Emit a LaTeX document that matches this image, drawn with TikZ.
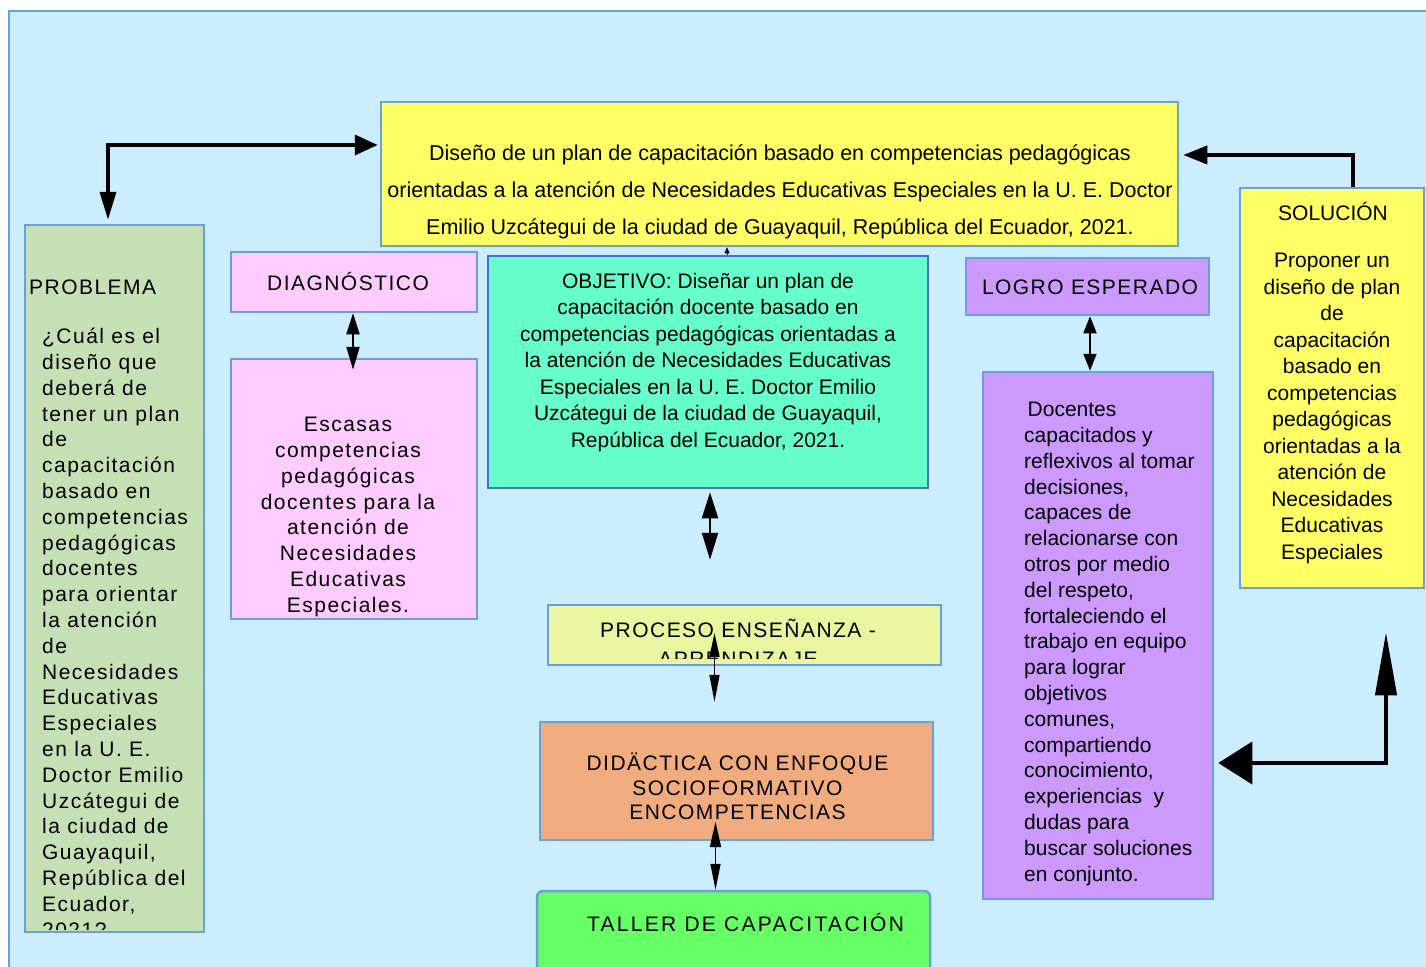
\documentclass[tikz,border=0pt]{standalone}
\usepackage{fontspec}
\setmainfont{Liberation Sans}
\newfontfamily\ancha[LetterSpace=7]{Liberation Sans}
\newfontfamily\anchamas[LetterSpace=11]{Liberation Sans}
\usetikzlibrary{positioning,arrows.meta,calc}
\definecolor{fondo}{HTML}{CCECFF}
\definecolor{borde}{HTML}{6A9FD8}
\definecolor{bordeobj}{HTML}{4472C4}
\definecolor{amarillo}{HTML}{FFFF66}
\definecolor{verdeprob}{HTML}{C5E0B4}
\definecolor{rosa}{HTML}{FFCCFF}
\definecolor{aguamarina}{HTML}{66FFCC}
\definecolor{limon}{HTML}{EAF5A0}
\definecolor{salmon}{HTML}{F0AC7E}
\definecolor{verde}{HTML}{66FF66}
\definecolor{lila}{HTML}{CC99FF}

\begin{document}
\begin{tikzpicture}[x=1pt,y=-1pt,
    caja/.style={draw=borde,line width=2.5pt,inner sep=0pt},
    txt/.style={inner sep=0pt,font=\fontsize{21}{25.8}\selectfont},
    dbl/.style={line width=2pt,{Triangle[length=26pt,width=16pt]}-{Triangle[length=27pt,width=16pt]}}]
  \useasboundingbox (0,0) rectangle (1426,966);
  \clip (0,0) rectangle (1426,966);
  \draw[borde,fill=fondo,line width=2.5pt] (9,11) rectangle (1460,1000);
  % cajas
  \node[caja,fill=amarillo,minimum width=797,minimum height=144] (titulo) at (779.5,174) {};
  \node[caja,fill=verdeprob,minimum width=179,minimum height=707] (problema) at (114.5,578.5) {};
  \node[caja,fill=rosa,minimum width=246,minimum height=60] (diagnostico) at (354,282) {};
  \node[caja,fill=rosa,minimum width=246,minimum height=260] (escasas) at (354,489) {};
  \node[caja,draw=bordeobj,fill=aguamarina,minimum width=440,minimum height=232] (objetivo) at (708,372) {};
  \node[caja,fill=limon,minimum width=393,minimum height=60] (proceso) at (744.5,635) {};
  \node[caja,fill=salmon,minimum width=393,minimum height=118] (didactica) at (736.5,781) {};
  \node[caja,fill=verde,rounded corners=6pt,minimum width=393,minimum height=94] (taller) at (733.5,938) {};
  \node[caja,fill=lila,minimum width=243,minimum height=57] (logro) at (1087.5,286.5) {};
  \node[caja,fill=lila,minimum width=230,minimum height=527] (docentes) at (1098,635.5) {};
  \node[caja,fill=amarillo,minimum width=184,minimum height=400] (solucion) at (1332,388) {};
  % textos
  \node[txt,font=\fontsize{21.5}{37}\selectfont,align=center,anchor=north] (titulotxt) at (780,144)
    {Diseño de un plan de capacitación basado en competencias pedagógicas\\
     orientadas a la atención de Necesidades Educativas Especiales en la U. E. Doctor\\
     Emilio Uzcátegui de la ciudad de Guayaquil, República del Ecuador, 2021.};
  \node[txt,anchor=west] (problematit) at (29,287) {\ancha PROBLEMA};
  \begin{scope}
    \clip (25,225) rectangle (204,929);
    \node[txt,font=\ancha\fontsize{21}{25.8}\selectfont,align=left,anchor=north west] (problematxt) at (42,328)
      {¿Cuál es el\\ diseño que\\ deberá de\\ tener un plan\\ de\\ capacitación\\ basado en\\
       competencias\\ pedagógicas\\ docentes\\ para orientar\\ la atención\\ de\\ Necesidades\\
       Educativas\\ Especiales\\ en la U. E.\\ Doctor Emilio\\ Uzcátegui de\\ la ciudad de\\
       Guayaquil,\\ República del\\ Ecuador,\\ 2021?};
  \end{scope}
  \node[txt] (diagnosticotxt) at (348,281) {\ancha DIAGNÓSTICO};
  \node[txt,font=\ancha\fontsize{21}{25.8}\selectfont,align=center,anchor=north] (escasastxt) at (348,417)
    {Escasas\\ competencias\\ pedagógicas\\ docentes para la\\ atención de\\ Necesidades\\
     Educativas\\ Especiales.};
  \node[txt,font=\fontsize{21}{26.5}\selectfont,align=center,anchor=north] (objetivotxt) at (708,273)
    {OBJETIVO: Diseñar un plan de\\ capacitación docente basado en\\ competencias pedagógicas orientadas a\\
     la atención de Necesidades Educativas\\ Especiales en la U. E. Doctor Emilio\\
     Uzcátegui de la ciudad de Guayaquil,\\ República del Ecuador, 2021.};
  \begin{scope}
    \clip (548,605) rectangle (941,658);
    \node[txt,font=\ancha\fontsize{21}{29}\selectfont,align=center,anchor=north] (procesotxt) at (738,619)
      {PROCESO ENSEÑANZA -\\ APRENDIZAJE};
  \end{scope}
  \node[txt,font=\ancha\fontsize{21}{24.5}\selectfont,align=center,anchor=north] (didacticatxt) at (737.5,753)
    {DIDÄCTICA CON ENFOQUE\\ SOCIOFORMATIVO\\ ENCOMPETENCIAS};
  \node[txt] (tallertxt) at (745.5,922) {\anchamas TALLER DE CAPACITACIÓN};
  \node[txt] (logrotxt) at (1090,287) {\ancha LOGRO ESPERADO};
  \node[txt,align=left,anchor=north west] (docentestxt) at (1024,402)
    {\,Docentes\\ capacitados y\\ reflexivos al tomar\\ decisiones,\\ capaces de\\ relacionarse con\\
     otros por medio\\ del respeto,\\ fortaleciendo el\\ trabajo en equipo\\ para lograr\\ objetivos\\
     comunes,\\ compartiendo\\ conocimiento,\\ experiencias\ \ y\\ dudas para\\ buscar soluciones\\ en conjunto.};
  \node[txt] (soluciontit) at (1333,211) {SOLUCIÓN};
  \node[txt,font=\fontsize{21}{26.5}\selectfont,align=center,anchor=north] (soluciontxt) at (1332,253)
    {Proponer un\\ diseño de plan\\ de\\ capacitación\\ basado en\\ competencias\\ pedagógicas\\
     orientadas a la\\ atención de\\ Necesidades\\ Educativas\\ Especiales};
  % flechas
  \draw[line width=3.5pt,{Triangle[length=28pt,width=16pt]}-{Triangle[length=23pt,width=20pt]},shorten <=4pt,shorten >=2pt]
    ([xshift=-6.5pt]problema.north) |- ([yshift=29pt]titulo.west);
  \draw[line width=3.5pt,-{Triangle[length=24pt,width=18pt]},shorten >=4pt]
    ([xshift=21pt]solucion.north) |- ([yshift=19pt]titulo.east);
  \draw[line width=4pt,{Triangle[length=34pt,width=42pt]}-{Triangle[length=63pt,width=21pt]},shorten <=4pt,shorten >=43pt]
    ([yshift=-127.5pt]docentes.east) -| ([xshift=54pt]solucion.south);
  \draw[-{Triangle[length=6pt,width=5pt]},line width=0.5pt] ($(objetivo.north)+(19,0)$) -- ($(objetivo.north |- titulo.south)+(19,0)$);
  \draw[dbl,shorten <=3pt,shorten >=44pt] ($(objetivo.south)+(2,0)$) -- ($(objetivo.south |- proceso.north)+(2,0)$);
  \draw[line width=1.5pt,{Triangle[length=24pt,width=10pt]}-{Triangle[length=27pt,width=10pt]},shorten >=19pt]
    ($(proceso.center)+(-30,-2)$) -- ($(proceso.center |- didactica.north)+(-30,0)$);
  \draw[line width=1.5pt,{Triangle[length=25pt,width=11pt]}-{Triangle[length=26pt,width=10pt]}]
    ($(didactica.center)+(-21,41)$) -- ($(didactica.center |- taller.north)+(-21,0)$);
  \draw[line width=2pt,{Triangle[length=21pt,width=13pt]}-{Triangle[length=23pt,width=13pt]}]
    ($(diagnostico.south)+(-1,0)$) -- ($(escasas.north)+(-1,12)$);
  \draw[line width=2pt,{Triangle[length=17pt,width=13pt]}-{Triangle[length=17pt,width=13pt]}]
    ($(logro.south)+(2.5,0)$) -- ($(logro.south |- docentes.north)+(2.5,0)$);
\end{tikzpicture}
\end{document}
